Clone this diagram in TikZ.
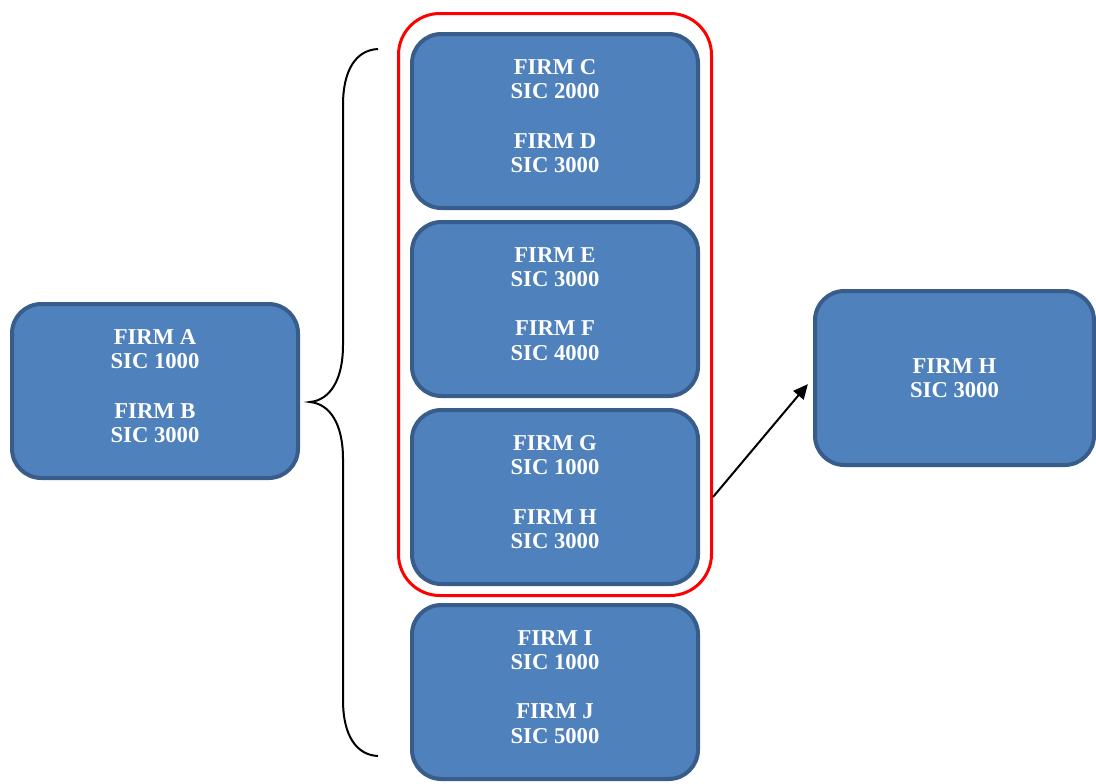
\documentclass[tikz,border=0pt]{standalone}
\usepackage{fontspec}
\setmainfont{Liberation Serif}
\usetikzlibrary{arrows.meta,positioning}
\definecolor{firmblue}{HTML}{4F81BD}
\definecolor{firmedge}{HTML}{385D8A}

\begin{document}
\begin{tikzpicture}[x=0.75pt,y=-0.75pt,>={Triangle[length=11pt,width=10pt]},
                    firm node/.style={rectangle,rounded corners=22pt,draw=firmedge,fill=firmblue,
                    line width=3pt,minimum width=214.5pt,minimum height=130.5pt,align=center,
                    text=white,font=\fontsize{17}{18.4}\selectfont\bfseries},
                    pair node/.style={firm node,text depth=7.5pt},
                    group node/.style={rectangle,rounded corners=31pt,draw=red,line width=2.25pt,
                    minimum width=234.75pt,minimum height=436.5pt}]
                    \useasboundingbox (0,0) rectangle (1096,783);
                    \node[pair node] (CD) at (555,121) {FIRM C\\SIC 2000\\[18.4pt]FIRM D\\SIC 3000};
                    \node[pair node] (EF) [below=7.5pt of CD] {FIRM E\\SIC 3000\\[18.4pt]FIRM F\\SIC 4000};
                    \node[pair node] (GH) [below=7.5pt of EF] {FIRM G\\SIC 1000\\[18.4pt]FIRM H\\SIC 3000};
                    \node[pair node] (IJ) [below=12.75pt of GH] {FIRM I\\SIC 1000\\[18.4pt]FIRM J\\SIC 5000};
                    \node[pair node] (AB) at (155,391) {FIRM A\\SIC 1000\\[18.4pt]FIRM B\\SIC 3000};
                    \node[firm node,minimum width=209.25pt] (H) at (954.5,378) {FIRM H\\SIC 3000};
                    \node[group node] (G) at (555,304.5) {};
                    % brace
                    \draw[line width=1.5pt] (378,49) .. controls (356,50) and (343,70) .. (343,105)
                        -- (343,345) .. controls (343,380) and (330,400) .. (310,402)
                        .. controls (330,404) and (343,424) .. (343,459)
                        -- (343,700) .. controls (343,735) and (356,755) .. (378,756);
                    \path[->,line width=1.5pt,shorten >=6pt]
                        (G.east |- GH.center)
                        edge (H.west)
                        ;
                \end{tikzpicture}
\end{document}
